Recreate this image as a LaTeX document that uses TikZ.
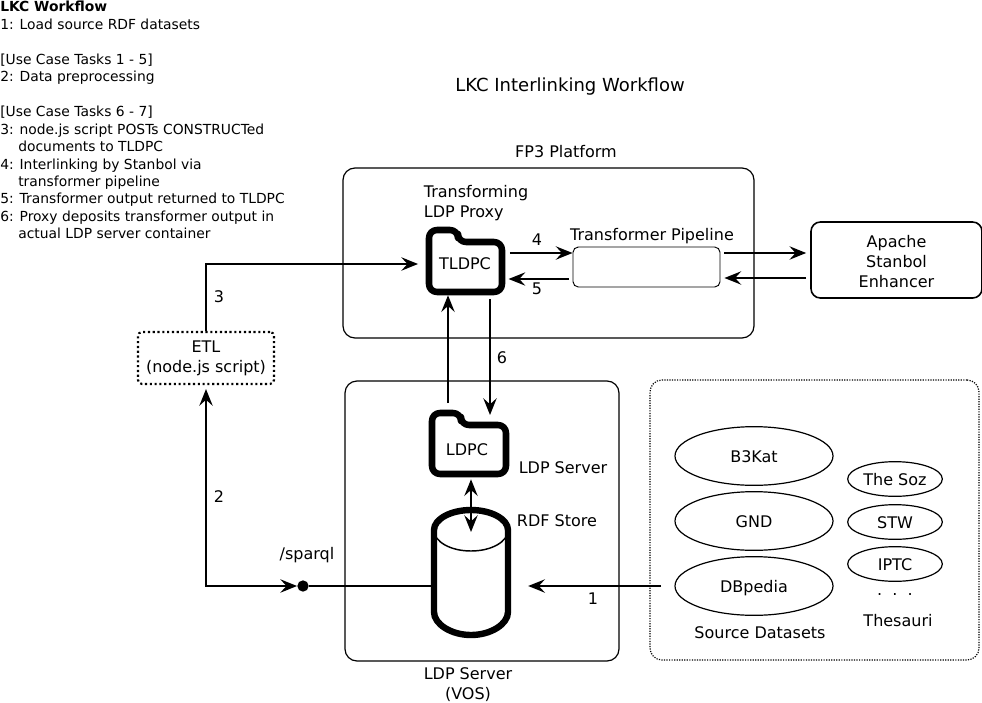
\documentclass[tikz,border=0pt]{standalone}
\usepackage{fontspec}
\setmainfont{DejaVu Sans}
\usetikzlibrary{arrows.meta,shapes.geometric}
\tikzset{
	label/.style={inner sep=0pt, align=center, yshift=-0.75pt, font=\fontsize{12}{15}\selectfont},
	box/.style={draw=black, line width=0.9pt, rounded corners=9pt, inner sep=0pt},
	store/.style={draw=black, line width=0.9pt, ellipse, inner sep=0pt, text height=10.2pt, text depth=0pt, font=\fontsize{12}{15}\selectfont},
	tip/.tip={Stealth[length=12.5pt,width=10pt,inset=4.5pt]},
	flow/.style={line width=1.5pt, -tip},
	twoway/.style={line width=1.5pt, tip-tip},
	folder/.style={line width=4.9pt, rounded corners=6pt, line join=round},
}
\begin{document}
\begin{tikzpicture}[x=0.75pt, y=-0.75pt]
	\useasboundingbox (0,0) rectangle (982,703);
	% Workflow text
	\node[label, anchor=north west, align=left, font=\fontsize{10.4}{13.1}\selectfont] (steps) at (0,0) {%
		\textbf{LKC Workflow}\\
		1: Load source RDF datasets\\[13.1pt]
		[Use Case Tasks 1 - 5]\\
		2: Data preprocessing\\[13.1pt]
		[Use Case Tasks 6 - 7]\\
		3: node.js script POSTs CONSTRUCTed\\
		\hspace*{1.3em}documents to TLDPC\\
		4: Interlinking by Stanbol via\\
		\hspace*{1.3em}transformer pipeline\\
		5: Transformer output returned to TLDPC\\
		6: Proxy deposits transformer output in\\
		\hspace*{1.3em}actual LDP server container};
	\node[label, font=\fontsize{13.5}{15}\selectfont] (title) at (570,86) {LKC Interlinking Workflow};
	% Containers
	\node[box, minimum width=308.25pt, minimum height=127.5pt] (fp3) at (548.5,253) {};
	\node[box, minimum width=205.5pt, minimum height=210pt] (ldpbox) at (482,521) {};
	\node[box, densely dotted, minimum width=246.75pt, minimum height=210pt] (sources) at (814.5,520) {};
	\node[label] (fp3label) at (566,151) {FP3 Platform};
	\node[label] (vos) at (468,684) {LDP Server\\(VOS)};
	\node[label] (sourcelabel) at (760,632) {Source Datasets};
	\node[label] (dots) at (895,594) {.\ \ .\ \ .};
	\node[label] (thesauri) at (898,620) {Thesauri};
	% Folders
	\node[label, minimum width=60pt, minimum height=45pt] (tldpc) at (465,263) {TLDPC};
	\node[label, minimum width=58.5pt, minimum height=43.5pt] (ldpc) at (467,449) {LDPC};
	\draw[folder] (429,260) -- (429,230) -- (458,230) -- (458,242) -- (502,242) -- (502,292) -- (429,292) -- cycle;
	\draw[folder] (432,445) -- (432,413) -- (461,413) -- (461,425) -- (506,425) -- (506,474) -- (432,474) -- cycle;
	\node[label, align=left] (proxy) at (476,202) {Transforming\\LDP Proxy};
	\node[label] (server) at (563,467) {LDP Server};
	\node[label] (rdf) at (557,520) {RDF Store};
	% Cylinder
	\node[inner sep=0pt, minimum width=60pt, minimum height=97.5pt] (cyl) at (471,572) {};
	\draw[line width=4.8pt] (434,530) .. controls (434,519) and (451,510) .. (471,510)
		.. controls (491,510) and (508,519) .. (508,530)
		-- (508,612) .. controls (508,624) and (491,635) .. (471,635)
		.. controls (451,635) and (434,624) .. (434,612) -- cycle;
	\draw[line width=1.1pt] (434,530) .. controls (434,542) and (451,551) .. (471,551)
		.. controls (491,551) and (508,542) .. (508,530);
	% Other boxes
	\node[box, fill=white, line width=0.7pt, rounded corners=4pt, minimum width=110.25pt, minimum height=30pt] (pipeline) at (646.5,267) {};
	\node[label, anchor=south] (pipelabel) at (652,243) {Transformer Pipeline};
	\node[box, line width=1.2pt, rounded corners=7pt, minimum width=128.25pt, minimum height=57pt] (stanbol) at (896.5,260) {};
	\node[label, yshift=-0.75pt] at (stanbol.center) (stanboltext) {Apache\\Stanbol\\Enhancer};
	\node[draw=black, line width=1.6pt, dotted, rounded corners=3pt, inner sep=0pt, minimum width=102pt, minimum height=39pt] (etl) at (206,358) {};
	\node[label] (etltext) at (206,357) {ETL\\(node.js script)};
	% Datasets
	\node[store, minimum width=118.5pt, minimum height=44pt] (b3kat) at (754,456) {B3Kat};
	\node[store, minimum width=118.5pt, minimum height=44pt] (gnd) at (754,521) {GND};
	\node[store, minimum width=118.5pt, minimum height=44pt] (dbpedia) at (754,586) {DBpedia};
	\node[store, minimum width=71pt, minimum height=26pt] (soz) at (895,479) {The Soz};
	\node[store, minimum width=71pt, minimum height=26pt] (stw) at (895,522) {STW};
	\node[store, minimum width=71pt, minimum height=26pt] (iptc) at (895,564) {IPTC};
	\node[circle, fill=black, inner sep=0pt, minimum size=8.5pt] (sparql) at (303,586) {};
	\node[label] (sparqllabel) at (307,554) {/sparql};
	% Connectors
	\draw[flow, shorten >=5pt] (etl.north) |- (tldpc.west);
	\draw[twoway, shorten <=3pt] (etl.south) |- (sparql.west);
	\draw[line width=1.5pt] (sparql) -- (sparql -| cyl.west);
	\draw[flow, shorten <=10pt, shorten >=12.7pt] (dbpedia.west) -- (cyl.east |- dbpedia);
	\draw[flow, shorten <=3.5pt] ([yshift=8.25pt]tldpc.east) -- ([yshift=10.5pt]pipeline.west);
	\draw[flow, shorten <=2.5pt, shorten >=2.5pt] ([yshift=-9pt]pipeline.west) -- ([yshift=-11.25pt]tldpc.east);
	\draw[flow, shorten <=3pt, shorten >=3pt] ([yshift=10.5pt]pipeline.east) -- ([yshift=5.25pt]stanbol.west);
	\draw[flow, shorten <=3pt, shorten >=3pt] ([yshift=-13.5pt]stanbol.west) -- ([yshift=-8.25pt]pipeline.east);
	\coordinate (upstart) at (448,403);
	\coordinate (downend) at (490,415);
	\draw[flow, shorten >=0.75pt] (upstart) -- (upstart |- tldpc.south);
	\draw[flow, shorten <=3.75pt] (downend |- tldpc.south) -- (downend);
	\draw[twoway] (ldpc.south -| cyl) -- (471,532);
	% Numbers
	\node[label] (n1) at (593,598) {1};
	\node[label] (n2) at (219,496) {2};
	\node[label] (n3) at (219,296) {3};
	\node[label] (n4) at (537,239) {4};
	\node[label] (n5) at (537,288) {5};
	\node[label] (n6) at (502,357) {6};
\end{tikzpicture}
\end{document}
